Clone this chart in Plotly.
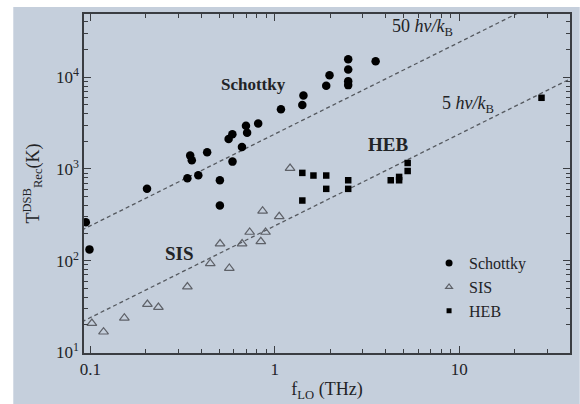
import plotly.graph_objects as go

# Schottky (f THz, T K)
schottky_f = [0.0946, 0.099, 0.203, 0.336, 0.385, 0.348, 0.355, 0.43, 0.504, 0.504, 0.562, 0.589, 0.59,
              0.664, 0.698, 0.708, 0.813, 1.08, 1.41, 1.43, 1.90, 1.98, 2.50, 2.50, 2.50, 2.50, 3.52]
schottky_T = [263, 133, 607, 793, 853, 1397, 1241, 1517, 753, 399, 2118, 2384, 1202,
              1734, 2958, 2483, 3133, 4458, 4964, 6322, 8050, 10510, 15700, 12110, 9050, 8190, 14920]

sis_f = [0.102, 0.118, 0.153, 0.204, 0.234, 0.336, 0.447, 0.505, 0.567, 0.665, 0.731, 0.84, 0.859, 0.891, 1.057, 1.21]
sis_T = [20.8, 16.8, 23.8, 33.5, 31.1, 52, 93.5, 153, 83, 153, 205, 162, 349, 205, 303, 1016]

heb_f = [1.41, 1.41, 1.62, 1.90, 1.90, 2.50, 2.50, 4.25, 4.72, 4.72, 5.25, 5.25, 27.9]
heb_T = [906, 453, 848, 848, 607, 753, 607, 753, 753, 819, 950, 1161, 5960]

# Quantum-limit reference lines: T = N * h f / k_B  (h/k_B = 48 K/THz)
line_f = [0.09, 40]
line50_T = [50 * 48 * f for f in line_f]
line5_T = [5 * 48 * f for f in line_f]

bg = "rgb(197,207,220)"
ink = "#222326"
serif = "Liberation Serif"

fig = go.Figure()
dash_style = dict(color="#55595f", width=1.3, dash="4px,3px")
fig.add_trace(go.Scatter(x=line_f, y=line50_T, mode="lines", showlegend=False, line=dash_style, hoverinfo="skip"))
fig.add_trace(go.Scatter(x=line_f, y=line5_T, mode="lines", showlegend=False, line=dash_style, hoverinfo="skip"))

tri_col = "#5e6168"
fig.add_trace(go.Scatter(x=schottky_f, y=schottky_T, mode="markers", name="Schottky", showlegend=False,
                         marker=dict(symbol="circle", size=8.5, color="black")))
fig.add_trace(go.Scatter(x=sis_f, y=sis_T, mode="markers", name="SIS", showlegend=False,
                         marker=dict(symbol="triangle-up-open", size=8.5, color=tri_col,
                                     line=dict(width=1.2, color=tri_col))))
fig.add_trace(go.Scatter(x=heb_f, y=heb_T, mode="markers", name="HEB", showlegend=False,
                         marker=dict(symbol="square", size=6.5, color="black")))

# legend-only entries (smaller symbols, as in the reference legend)
fig.add_trace(go.Scatter(x=[None], y=[None], mode="markers", name="Schottky",
                         marker=dict(symbol="circle", size=7, color="black")))
fig.add_trace(go.Scatter(x=[None], y=[None], mode="markers", name="SIS",
                         marker=dict(symbol="triangle-up-open", size=6, color=tri_col,
                                     line=dict(width=1.2, color=tri_col))))
fig.add_trace(go.Scatter(x=[None], y=[None], mode="markers", name="HEB",
                         marker=dict(symbol="square", size=5, color="black")))

minor_x = [m * 10 ** k for k in (-2, -1, 0, 1) for m in range(2, 10)]
minor_y = [m * 10 ** k for k in (1, 2, 3, 4) for m in range(2, 10)]

axis_common = dict(showgrid=False, zeroline=False, showline=True, linecolor="#3a3d42", linewidth=1.5,
                   mirror="allticks", ticks="inside", ticklen=7, tickcolor="#3a3d42", tickwidth=1.2,
                   tickfont=dict(family=serif, size=17, color=ink))

fig.update_xaxes(type="log", range=[-1.034, 1.6], tickvals=[0.1, 1, 10], ticktext=["0.1", "1", "10"],
                 minor=dict(tickvals=minor_x, ticks="inside", ticklen=4, tickcolor="#3a3d42", showgrid=False),
                 title=dict(text="f<sub>LO</sub> (THz)", font=dict(family=serif, size=18, color=ink),
                            standoff=4),
                 **axis_common)
fig.update_yaxes(type="log", range=[0.995, 4.688], tickvals=[10, 100, 1000, 10000],
                 ticktext=["10<sup>1</sup>", "10<sup>2</sup>", "10<sup>3</sup>", "10<sup>4</sup>"],
                 minor=dict(tickvals=minor_y, ticks="inside", ticklen=4, tickcolor="#3a3d42", showgrid=False),
                 title=dict(text="T<sup>DSB</sup><sub>Rec</sub>(K)", font=dict(family=serif, size=18, color=ink),
                            standoff=12),
                 **axis_common)

annots = [
    dict(x=-0.117, y=3.915, text="<b>Schottky</b>", size=17),
    dict(x=0.615, y=3.261, text="<b>HEB</b>", size=19),
    dict(x=-0.519, y=2.074, text="<b>SIS</b>", size=19),
    dict(x=0.803, y=4.546, text="50 <i>hν/k</i><sub>B</sub>", size=18),
    dict(x=1.046, y=3.697, text="5 <i>hν/k</i><sub>B</sub>", size=18),
]
for a in annots:
    fig.add_annotation(x=a["x"], y=a["y"], xref="x", yref="y", text=a["text"], showarrow=False,
                       font=dict(family=serif, size=a["size"], color=ink))

fig.add_shape(type="rect", xref="paper", yref="paper", x0=-0.1455, x1=1.02, y0=-0.16, y1=1.0206,
              fillcolor=bg, line=dict(width=0), layer="below")

fig.update_layout(
    width=580, height=404,
    margin=dict(l=84, r=8, t=14, b=51),
    paper_bgcolor="white", plot_bgcolor=bg,
    legend=dict(x=0.71, y=0.315, xanchor="left", yanchor="top", bgcolor="rgba(0,0,0,0)",
                font=dict(family=serif, size=16, color=ink), tracegroupgap=0),
)

fig.write_html("out.html")
